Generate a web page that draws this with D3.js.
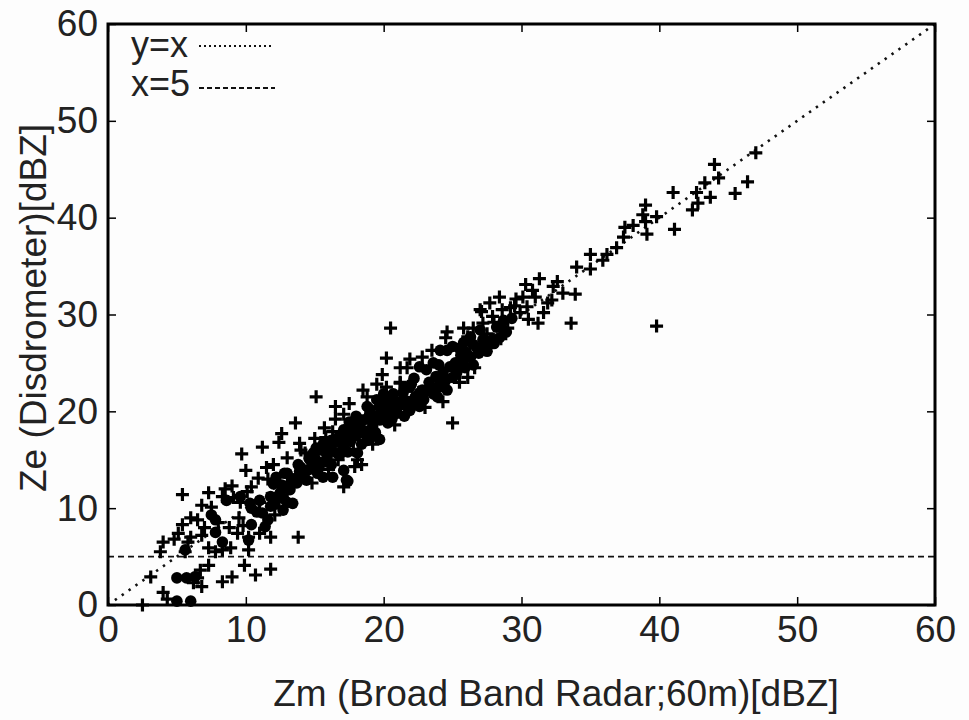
<!DOCTYPE html>
<html>
<head>
<meta charset="utf-8">
<script src="https://cdn.jsdelivr.net/npm/d3@7"></script>
<style>
  body { margin: 0; background: #fdfdfd; }
  .chart text { font-family: "Liberation Sans", Arial, sans-serif; fill: #222; }
</style>
</head>
<body>
<div class="chart"></div>
<script>
const WIDTH = 969;
const HEIGHT = 720;
const MARGIN = {TOP: 24, BOTTOM: 115, RIGHT: 34, LEFT: 108};
const innerWidth = WIDTH - MARGIN.LEFT - MARGIN.RIGHT;
const innerHeight = HEIGHT - MARGIN.TOP - MARGIN.BOTTOM;

const xTicks = [0, 10, 20, 30, 40, 50, 60];
const yTicks = [0, 10, 20, 30, 40, 50, 60];
const xLabel = 'Zm (Broad Band Radar;60m)[dBZ]';
const yLabel = 'Ze (Disdrometer)[dBZ]';
const legendItems = ['y=x', 'x=5'];
const thresholdY = 5;

// "+" markers [Zm, Ze]
const crossPts = [
  [47.0,46.7],[44.0,45.5],[44.3,44.1],[43.3,43.6],[46.4,43.7],[45.5,42.5],[43.7,42.1],[42.7,42.6],
  [42.8,41.5],[42.4,40.8],[41.0,42.6],[41.1,38.8],[39.8,28.8],[39.0,41.3],[38.8,40.3],[39.0,39.6],
  [39.8,40.1],[37.5,39.0],[38.1,39.2],[39.1,38.3],[37.4,38.0],[36.9,36.9],[36.2,36.2],[35.9,35.6],
  [35.0,36.2],[35.0,34.7],[34.0,34.9],[33.0,32.2],[33.9,32.1],[33.6,29.1],
  [31.3,33.7],[32.6,33.4],[32.3,32.9],[32.2,31.5],[31.9,31.2],[30.3,33.1],[30.8,32.5],[31.0,31.8],
  [30.1,31.8],[30.4,30.8],[31.6,30.2],[31.2,29.1],[29.9,30.2],[29.5,30.9],[29.2,30.7],[28.4,31.8],
  [27.7,31.2],[28.6,30.5],[27.0,30.5],[27.9,29.8],[27.2,29.1],[25.8,28.6],[24.6,28.2],[24.5,27.6],
  [26.1,27.7],[27.1,30.3],
  [20.5,28.6],[20.2,25.5],[21.9,25.4],[21.2,24.5],[21.7,24.5],[19.9,23.8],[21.2,23.0],[20.2,22.5],
  [18.8,21.5],[16.5,20.5],[17.1,19.7],[25.0,18.8],[26.1,23.5],[26.6,24.5],[21.2,22.9],
  [15.1,21.5],[13.6,18.8],[12.6,17.7],[12.4,16.8],[13.9,16.7],[11.2,16.3],[9.7,15.6],[10.0,13.9],
  [10.9,13.1],[11.6,13.0],[10.4,12.2],[15.7,18.3],[16.3,17.9],[15.8,17.3],[14.3,15.7],[18.1,15.0],
  [18.4,14.5],[17.9,14.3],[17.1,12.2],[16.7,15.0],
  [5.4,11.4],[6.8,10.3],[7.5,10.1],[8.3,11.2],[9.1,11.1],[9.6,10.6],[5.4,8.3],[5.1,7.4],
  [4.0,6.5],[3.8,5.5],[6.0,7.0],[5.8,6.5],[5.6,5.5],[6.8,7.2],[7.3,5.9],[7.8,5.5],
  [8.3,5.7],[8.9,5.9],[9.4,7.4],[10.2,7.0],[10.2,5.7],[7.3,4.1],[8.3,2.4],[9.0,2.9],
  [9.9,4.1],[10.7,3.1],[11.8,3.7],[3.1,2.9],[4.0,1.3],[4.3,0.6],[2.5,0.0],[6.7,3.6],
  [6.5,2.8],[6.2,2.3],[6.8,1.9],[10.1,11.7],[11.0,10.6],[11.0,7.4],[11.8,7.0],[13.8,7.0],
  [19.5,22.8],[18.5,22.2],[17.5,20.8],[16.5,19.2],[15.0,17.2],[14.0,16.0],[13.0,15.2],[12.0,14.5],
  [11.5,14.2],[9.0,12.3],[8.5,12.0],[7.3,11.6],[6.0,9.0],[6.5,8.8],[8.0,8.5],[9.5,9.0],
  [8.8,8.0],[9.8,8.2],[7.0,8.0],[4.8,6.8],[23.5,26.3],[22.8,25.6],[24.0,23.2],[25.5,23.0],
  [23.0,20.4],[24.3,21.0],[20.8,18.6],[19.2,16.6],[17.8,16.0],[16.0,14.0],[14.8,12.6],[13.0,11.7],
  [12.1,9.3],[28.5,27.5],[27.5,28.0],[26.5,28.6],[28.0,29.2],[29.0,28.6],[30.5,29.5],[29.6,31.6]
];

// filled dot markers [Zm, Ze]
const dotPts = [
  [5.0,2.8],[5.7,2.8],[6.3,2.9],[5.0,0.4],[6.0,0.4],[5.6,5.7],[7.8,8.8],[7.5,9.3],
  [8.3,6.5],[7.8,7.5],[10.4,8.3],[11.6,8.8],[11.4,8.1],[10.2,6.7],[10.4,10.0],[10.8,9.6],
  [12.3,11.2],[12.7,9.8],[13.0,10.6],[13.2,11.9],[12.8,13.6],[12.6,12.4],[13.4,10.5],
  [19.7,17.1],[18.8,20.5],[19.5,21.2],[20.2,20.5],[20.7,21.2],[21.4,21.9],[18.5,19.1],[18.1,18.1],
  [17.3,17.8],[17.1,16.3],[16.6,15.7],[16.1,16.3],[15.9,15.3],[15.4,14.7],[14.9,15.7],[17.1,13.9],
  [17.3,12.9],[16.3,13.2],[15.6,13.2],[15.2,13.6],[14.4,12.9],[13.7,12.6],[13.0,13.6],[13.2,12.2],
  [12.5,11.6],[11.8,11.2],[11.0,10.8],[9.6,11.2],[8.6,10.8],[10.3,10.5],[17.8,17.4],[19.0,17.4],
  [18.1,15.7],[17.4,12.8],
  [24.6,26.3],[25.5,26.5],[26.3,27.7],[27.0,28.4],[28.2,28.7],[28.7,29.4],[25.8,25.3],[25.3,24.0],
  [24.1,22.9],[23.4,22.5],[22.6,21.9],[23.1,24.3],[22.6,24.6],[21.9,22.5],[21.4,21.2],[22.6,20.5],
  [20.5,21.2],[19.7,20.5],[19.0,19.8],[18.3,19.1],[17.6,18.6],[17.1,18.1],[19.2,18.4],[18.5,17.8],
  [19.7,19.1],[21.0,19.8],[23.9,21.5],[24.6,22.2],[21.9,20.1],
  [24.1,26.3],[25.0,26.7],[25.8,27.1],[26.5,26.9],[27.2,27.4],[27.9,27.4],[28.7,28.4],[23.6,25.0],
  [26.5,24.8],[29.3,29.6],
  [14.0,14.2],[14.6,14.0],[15.0,15.2],[15.5,16.0],[16.0,15.8],[16.5,16.8],[17.0,17.0],[17.6,16.9],
  [18.0,17.5],[18.6,18.0],[19.2,18.8],[19.6,19.6],[20.0,19.5],[20.4,20.0],[20.8,20.6],[21.3,20.7],
  [21.8,21.0],[22.3,21.5],[22.8,22.2],[23.3,23.0],[23.8,23.6],[24.3,24.0],[24.8,24.6],[25.2,25.0],
  [25.6,25.8],[26.0,26.1],[26.8,26.5],[27.4,27.0],[23.0,22.0],[22.0,22.8],[24.0,24.8],[20.0,21.8],
  [19.0,20.2],[18.0,19.5],[17.5,18.9],
  [12.0,12.5],[12.2,13.2],[13.5,13.0],[13.8,14.5],[14.2,13.4],[14.8,14.6],[15.3,14.2],[15.8,14.8],
  [16.2,14.5],[16.8,15.5],[17.4,15.8],[18.4,16.6],[18.8,17.0],[19.4,17.8],[20.3,18.8],[20.6,19.2],
  [21.5,19.5],[21.8,20.3],[22.5,20.8],[22.9,21.2],[23.6,21.8],[24.0,22.5],[24.5,23.2],[25.0,23.5],
  [25.3,24.6],[25.9,24.5],[26.3,25.6],[26.9,26.0],[27.5,26.2],[28.0,27.0],[28.4,27.6],[28.9,28.2],
  [22.2,23.4],[21.5,22.3],[20.7,21.8],[19.9,20.9],[18.9,19.4],[18.2,18.6],[17.8,17.9],[16.8,17.5],
  [16.2,17.0],[15.6,16.6],[15.1,16.2],[14.6,15.1],[13.9,13.8],[13.3,12.8],[12.7,11.0],[11.8,10.2],
  [11.2,9.5],[12.1,10.4]
];

var xScale = d3.scaleLinear().range([0, innerWidth]).domain([0, 60]);
var yScale = d3.scaleLinear().range([innerHeight, 0]).domain([0, 60]);

var svg = d3.select('.chart').append('svg')
    .attr('width', WIDTH)
    .attr('height', HEIGHT);

var mainGroup = svg.append('g')
    .attr('transform', 'translate(' + MARGIN.LEFT + ',' + MARGIN.TOP + ')');

// reference lines
mainGroup.append('line')
    .attr('x1', xScale(0)).attr('y1', yScale(0))
    .attr('x2', xScale(60)).attr('y2', yScale(60))
    .attr('stroke', '#111').attr('stroke-width', 2.6)
    .attr('stroke-dasharray', '2.4,6');

mainGroup.append('line')
    .attr('x1', xScale(0)).attr('y1', yScale(thresholdY))
    .attr('x2', xScale(60)).attr('y2', yScale(thresholdY))
    .attr('stroke', '#111').attr('stroke-width', 1.8)
    .attr('stroke-dasharray', '6,4');

// points
mainGroup.append('g').selectAll('circle')
    .data(dotPts)
    .enter().append('circle')
    .attr('cx', d => xScale(d[0]))
    .attr('cy', d => yScale(d[1]))
    .attr('r', 5.8)
    .attr('fill', '#000');

mainGroup.append('g').selectAll('path')
    .data(crossPts)
    .enter().append('path')
    .attr('d', d => {
        var x = xScale(d[0]), y = yScale(d[1]);
        return 'M' + (x - 6.5) + ',' + y + 'H' + (x + 6.5) + 'M' + x + ',' + (y - 6.5) + 'V' + (y + 6.5);
    })
    .attr('stroke', '#000')
    .attr('stroke-width', 3.2);

// axes with inward ticks
var xAxisG = mainGroup.append('g')
    .attr('transform', 'translate(0,' + innerHeight + ')')
    .call(d3.axisBottom(xScale).tickValues(xTicks).tickSize(-8).tickPadding(9));
var yAxisG = mainGroup.append('g')
    .call(d3.axisLeft(yScale).tickValues(yTicks).tickSize(-8).tickPadding(10));
var topAxisG = mainGroup.append('g')
    .call(d3.axisTop(xScale).tickValues(xTicks).tickSize(-8));
var rightAxisG = mainGroup.append('g')
    .attr('transform', 'translate(' + innerWidth + ',0)')
    .call(d3.axisRight(yScale).tickValues(yTicks).tickSize(-8));
topAxisG.selectAll('text').remove();
rightAxisG.selectAll('text').remove();

mainGroup.selectAll('.domain').remove();
mainGroup.selectAll('.tick line').attr('stroke', '#000').attr('stroke-width', 1.5);
xAxisG.selectAll('text').style('font-size', '37px').attr('dy', '0.75em');
yAxisG.selectAll('text').style('font-size', '37px');

mainGroup.append('rect')
    .attr('width', innerWidth).attr('height', innerHeight)
    .attr('fill', 'none').attr('stroke', '#000').attr('stroke-width', 3);

// axis titles
svg.append('text')
    .attr('x', 556)
    .attr('y', 706)
    .attr('text-anchor', 'middle')
    .style('font-size', '37px')
    .text(xLabel);

svg.append('text')
    .attr('transform', 'translate(46,308) rotate(-90)')
    .attr('text-anchor', 'middle')
    .style('font-size', '37px')
    .text(yLabel);

// legend
var legend = svg.append('g');
legend.append('text').attr('x', 131).attr('y', 57).style('font-size', '36px').text(legendItems[0]);
legend.append('line').attr('x1', 199).attr('x2', 272).attr('y1', 46).attr('y2', 46)
    .attr('stroke', '#111').attr('stroke-width', 2).attr('stroke-dasharray', '2,3');
legend.append('text').attr('x', 131).attr('y', 96).style('font-size', '36px').text(legendItems[1]);
legend.append('line').attr('x1', 199).attr('x2', 275).attr('y1', 88).attr('y2', 88)
    .attr('stroke', '#111').attr('stroke-width', 1.8).attr('stroke-dasharray', '5,3');
</script>
</body>
</html>
